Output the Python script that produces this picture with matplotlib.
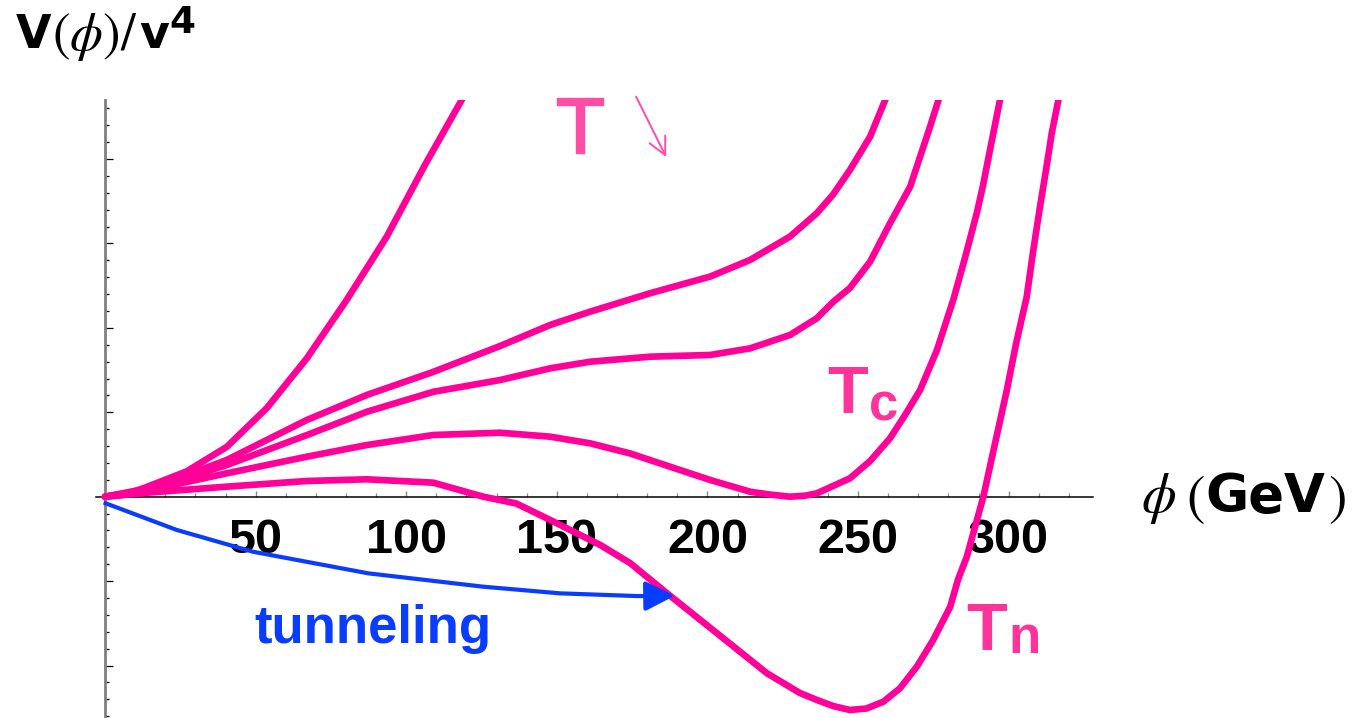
import matplotlib
matplotlib.use("Agg")
import matplotlib.pyplot as plt
import matplotlib.patheffects as pe
from matplotlib.ticker import FixedLocator, MultipleLocator, NullFormatter

plt.rcParams['mathtext.fontset'] = 'custom'
plt.rcParams['mathtext.rm'] = 'STIXGeneral'
plt.rcParams['mathtext.it'] = 'STIXGeneral:italic'
plt.rcParams['mathtext.bf'] = 'DejaVu Sans:bold'

# potential V(phi)/v^4 for decreasing temperature (phi in GeV)
phi_1 = [0, 6, 12.7, 27.1, 40.4, 53.7, 67.0, 80.2, 93.5, 106.2, 118.4, 125]
V_1 = [0, 0.02, 0.10, 0.30, 0.59, 1.05, 1.64, 2.33, 3.08, 3.93, 4.70, 5.12]

phi_2 = [0, 14.9, 27.1, 40.4, 67.0, 86.9, 108.9, 131.2, 147.8, 161.1, 181.0,
         200.9, 214.2, 227.4, 236.3, 241.7, 247.3, 254.0, 259.0, 263]
V_2 = [0, 0.103, 0.257, 0.435, 0.909, 1.205, 1.478, 1.786, 2.035, 2.193, 2.411,
       2.608, 2.806, 3.082, 3.359, 3.58, 3.871, 4.266, 4.70, 5.05]

phi_3 = [0, 14.9, 40.4, 67.0, 86.9, 109.0, 131.1, 147.8, 161.0, 181.0, 200.9,
         214.2, 227.4, 236.3, 241.7, 247.3, 254.0, 260.6, 267.3, 273.9, 276.7, 281]
V_3 = [0, 0.091, 0.375, 0.730, 1.006, 1.243, 1.382, 1.521, 1.599, 1.659, 1.679,
       1.758, 1.916, 2.114, 2.307, 2.473, 2.785, 3.239, 3.673, 4.384, 4.70, 5.2]

# T = Tc : degenerate minima
phi_c = [0, 14.9, 40.4, 67.0, 86.9, 109.0, 131.1, 147.8, 161.1, 174.3, 187.6,
         200.9, 214.2, 220.8, 227.4, 232.4, 236.3, 247.3, 254.0, 260.6, 265.6,
         270.6, 276.2, 281.6, 285.5, 289.4, 291.5, 293.8, 297.1, 300]
V_c = [0, 0.079, 0.277, 0.474, 0.612, 0.731, 0.758, 0.711, 0.632, 0.513, 0.355,
       0.198, 0.059, 0.025, 0, 0.012, 0.040, 0.218, 0.423, 0.692, 0.968,
       1.264, 1.738, 2.331, 2.83, 3.358, 3.69, 4.108, 4.700, 5.1]

# T = Tn : broken minimum below the symmetric one
phi_n = [0, 14.9, 40.4, 67.0, 86.9, 109.0, 125.6, 136.5, 147.8, 164.4, 174.3,
         186.6, 203.2, 219.8, 230.7, 236.4, 241.7, 247.3, 252.7, 258.4, 263.9,
         269.5, 274.9, 280.6, 283.2, 286.1, 291.6, 295.5, 299.4, 302.5, 306.0,
         308.1, 310.4, 312.4, 314.3, 316.5, 320]
V_n = [0, 0.050, 0.119, 0.186, 0.206, 0.166, 0, -0.08, -0.276, -0.572, -0.786,
       -1.145, -1.619, -2.093, -2.326, -2.409, -2.480, -2.527, -2.510, -2.429, -2.27,
       -2.014, -1.70, -1.303, -0.98, -0.711, 0, 0.636, 1.264, 1.82, 2.370,
       2.90, 3.436, 3.87, 4.306, 4.700, 5.2]

curves = [(phi_1, V_1), (phi_2, V_2), (phi_3, V_3), (phi_c, V_c), (phi_n, V_n)]

# tunneling path
phi_tun = [0.2, 23.8, 49.1, 87.4, 125.5, 151.0, 176.4, 181.0]
V_tun = [-0.078, -0.394, -0.652, -0.908, -1.066, -1.145, -1.177, -1.177]
tun_tip = (189.2, -1.173)

xticks = [50, 100, 150, 200, 250, 300]
xtick_labels = ['50', '100', '150', '200', '250', '300']

pink = '#ff0099'
pink_label = '#ff3399'
blue = '#0a3cff'

W, H = 1353, 718
fig = plt.figure(figsize=(W / 100, H / 100), dpi=100)
ax = fig.add_axes([96 / W, 0, 997 / W, 618 / H])
ax.set_xlim(-3, 328)
ax.set_ylim(-2.622, 4.70)

for x, y in curves:
    ax.plot(x, y, color=pink, lw=4.8, solid_capstyle='round',
            solid_joinstyle='round', zorder=3)

ax.plot(phi_tun, V_tun, color=blue, lw=3.0, solid_joinstyle='round', zorder=3)
ax.annotate('', xy=tun_tip, xytext=(phi_tun[-1], V_tun[-1]),
            arrowprops=dict(arrowstyle='-|>,head_length=1.0,head_width=0.5',
                            mutation_scale=18, color=blue, lw=3.0, shrinkA=0, shrinkB=0),
            zorder=4)

# axes through the origin
for s in ['top', 'right']:
    ax.spines[s].set_visible(False)
ax.spines['left'].set_position(('data', 0))
ax.spines['bottom'].set_position(('data', 0))
ax.spines['left'].set_color('#808080')
ax.spines['left'].set_linewidth(2.0)
ax.spines['bottom'].set_color('black')
ax.spines['bottom'].set_linewidth(1.1)

ax.xaxis.set_major_locator(FixedLocator(xticks))
ax.xaxis.set_minor_locator(MultipleLocator(10))
ax.set_xticklabels(xtick_labels, fontfamily='Liberation Sans', fontweight='bold', fontsize=35)
ax.tick_params(axis='x', which='major', direction='in', length=4.5, width=1.0,
               color='#888888', pad=15)
ax.tick_params(axis='x', which='minor', direction='in', length=2.6, width=0.9,
               color='#888888')

ax.yaxis.set_major_locator(MultipleLocator(1))
ax.yaxis.set_minor_locator(MultipleLocator(0.2))
ax.yaxis.set_major_formatter(NullFormatter())
ax.tick_params(axis='y', which='major', direction='in', length=5.5, width=0.9, color='black')
ax.tick_params(axis='y', which='minor', direction='in', length=3.0, width=0.9, color='black')


def fpos(x, y):
    return x / W, 1 - y / H


renderer = fig.canvas.get_renderer()


def chain(x, pieces):
    # lay text pieces left to right, each one after the previous one's box
    for s, y, gap, kw in pieces:
        t = fig.text(*fpos(x, y), s, ha='left', va='baseline', **kw)
        x = t.get_window_extent(renderer).x1 + gap


bold = dict(fontfamily='DejaVu Sans', fontweight='bold')

# y label  V(phi)/v^4
chain(16, [('V', 48, 1, dict(fontsize=33, **bold)),
           (r'$(\phi)/$', 50, 1, dict(fontsize=38)),
           ('v', 48, 1, dict(fontsize=33, **bold)),
           ('4', 33, 0, dict(fontsize=27, **bold))])

# x label  phi (GeV)
chain(1141, [(r'$\phi$', 512, 10, dict(fontsize=40)),
             (r'$($', 514, 1, dict(fontsize=40)),
             ('GeV', 512, 2, dict(fontsize=38, **bold)),
             (r'$)$', 514, 0, dict(fontsize=40))])

# temperature labels
fig.text(*fpos(557, 153), 'T', fontfamily='DejaVu Sans', fontsize=54, color='#ff4da6',
         ha='left', va='baseline',
         path_effects=[pe.withStroke(linewidth=1.0, foreground='#ff4da6')])
ax.annotate('', xy=(186.3, 4.025), xytext=(176.3, 4.74),
            arrowprops=dict(arrowstyle='->,head_length=0.7,head_width=0.35',
                            mutation_scale=18, color='#ff4da6', lw=1.4,
                            shrinkA=0, shrinkB=0),
            annotation_clip=False)

fig.text(*fpos(827, 413), 'T', fontfamily='Liberation Sans', fontweight='bold',
         fontsize=48, color=pink_label, ha='left', va='baseline')
fig.text(*fpos(869, 420), 'c', fontfamily='Liberation Sans', fontweight='bold',
         fontsize=38, color=pink_label, ha='left', va='baseline')
fig.text(*fpos(966, 650), 'T', fontfamily='Liberation Sans', fontweight='bold',
         fontsize=48, color=pink_label, ha='left', va='baseline')
fig.text(*fpos(1008, 653), 'n', fontfamily='Liberation Sans', fontweight='bold',
         fontsize=38, color=pink_label, ha='left', va='baseline')

fig.text(*fpos(254, 643), 'tunneling', fontfamily='Liberation Sans', fontweight='bold',
         fontsize=38, color=blue, ha='left', va='baseline')

fig.savefig('out.png', dpi=100)
